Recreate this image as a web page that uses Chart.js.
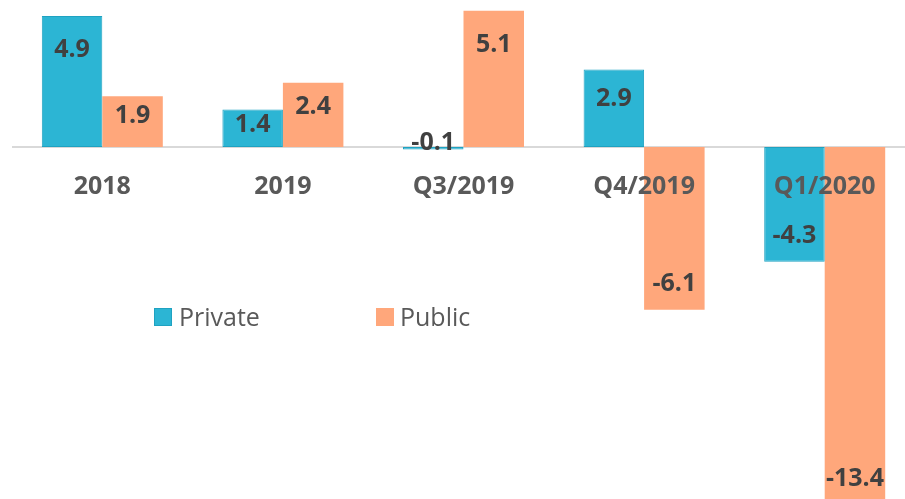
<!DOCTYPE html>
<html>
<head>
<meta charset="utf-8">
<script src="https://cdn.jsdelivr.net/npm/chart.js@4/dist/chart.umd.min.js"></script>
<style>
  html, body { margin: 0; padding: 0; background: #ffffff; overflow: hidden; width: 905px; height: 499px; }
  #wrap { position: absolute; left: 12px; top: 0; width: 903px; height: 499px; }
</style>
</head>
<body>
<div id="wrap"><canvas id="c" width="903" height="499"></canvas></div>
<script>
const categories = ["2018", "2019", "Q3/2019", "Q4/2019", "Q1/2020"];
const privateValues = [4.9, 1.4, -0.1, 2.9, -4.3];
const publicValues = [1.9, 2.4, 5.1, -6.1, -13.4];
const seriesNames = ["Private", "Public"];

const TEAL = "#2CB5D4";
const ORANGE = "#FFA77B";

const overlay = {
  id: "overlay",
  beforeDatasetsDraw(chart) {
    const ctx = chart.ctx;
    const y0 = chart.scales.y.getPixelForValue(0);
    ctx.save();
    ctx.strokeStyle = "#d9d9d9";
    ctx.lineWidth = 2;
    ctx.beginPath();
    ctx.moveTo(0, y0);
    ctx.lineTo(chart.width, y0);
    ctx.stroke();
    ctx.restore();
  },
  afterDatasetsDraw(chart) {
    const ctx = chart.ctx;
    const xs = chart.scales.x;
    const ys = chart.scales.y;
    const y0 = ys.getPixelForValue(0);
    ctx.save();
    // category labels (drawn above bars)
    ctx.font = "bold 25px 'Open Sans'";
    ctx.fillStyle = "#595959";
    ctx.textAlign = "center";
    ctx.textBaseline = "alphabetic";
    categories.forEach((c, i) => {
      ctx.fillText(c, xs.getPixelForValue(i), y0 + 38 + 9);
    });
    // data labels
    ctx.fillStyle = "#404040";
    chart.data.datasets.forEach((ds, di) => {
      const meta = chart.getDatasetMeta(di);
      meta.data.forEach((bar, i) => {
        const v = ds.data[i];
        const L = Math.abs(bar.y - y0);
        let cy;
        if (L < 20) {
          cy = y0 - 6;
        } else if (v >= 0) {
          cy = bar.y + Math.min(32, L * 0.35);
        } else {
          cy = bar.y - Math.min(28, L * 0.35);
        }
        ctx.fillText(v.toFixed(1), bar.x, cy + 9);
      });
    });
    // legend
    ctx.font = "25px 'Open Sans'";
    ctx.fillStyle = "#595959";
    ctx.textAlign = "left";
    const leg = [
      { sx: 142, tx: 167, color: TEAL, border: "#1FA2C1" },
      { sx: 364, tx: 388, color: ORANGE, border: ORANGE }
    ];
    leg.forEach((l, i) => {
      ctx.fillStyle = l.color;
      ctx.fillRect(l.sx, 308, 18, 18);
      ctx.strokeStyle = l.border;
      ctx.lineWidth = 1;
      ctx.strokeRect(l.sx + 0.5, 308.5, 17, 17);
      ctx.fillStyle = "#595959";
      ctx.fillText(seriesNames[i], l.tx, 317 + 9);
    });
    ctx.restore();
  }
};

new Chart(document.getElementById("c"), {
  type: "bar",
  data: {
    labels: categories,
    datasets: [
      { label: seriesNames[0], data: privateValues, backgroundColor: TEAL, borderColor: "#1FA2C1", borderWidth: 1, borderSkipped: false },
      { label: seriesNames[1], data: publicValues, backgroundColor: ORANGE, borderColor: ORANGE, borderWidth: 0 }
    ]
  },
  options: {
    responsive: false,
    animation: false,
    layout: { padding: 0 },
    datasets: { bar: { categoryPercentage: 0.67, barPercentage: 1.0 } },
    plugins: { legend: { display: false }, tooltip: { enabled: false } },
    scales: {
      x: { display: false, offset: true },
      y: { display: false, min: -13.18, max: 5.5 }
    }
  },
  plugins: [overlay]
});
</script>
</body>
</html>
